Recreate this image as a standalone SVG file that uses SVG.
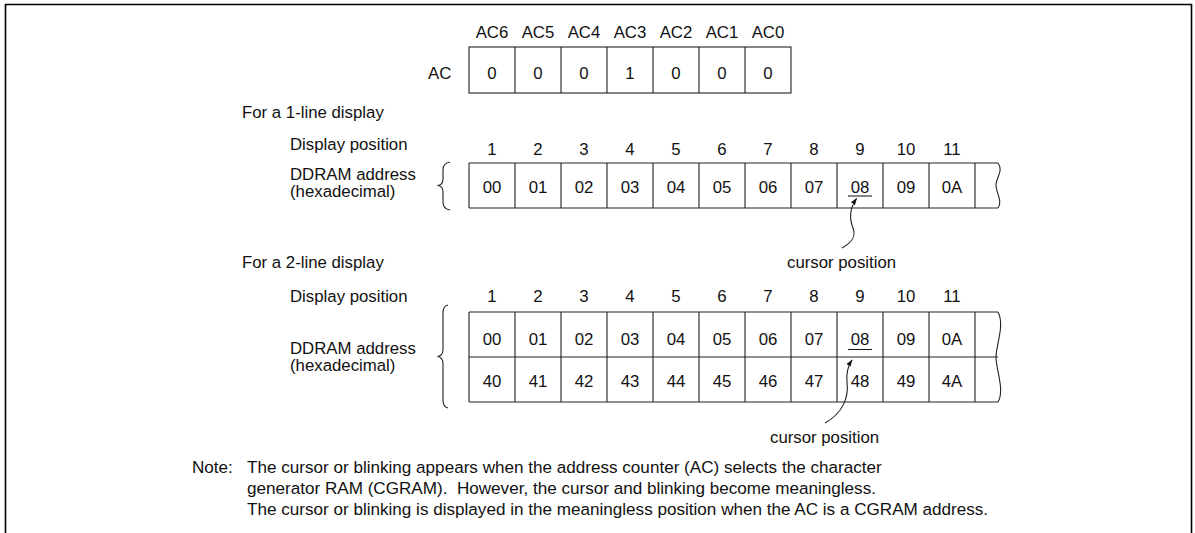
<svg xmlns="http://www.w3.org/2000/svg" width="1195" height="533" viewBox="0 0 1195 533">
<style>
text{font-family:"Liberation Sans",Arial,sans-serif;font-size:16.8px;fill:#111}
.c{text-anchor:middle}
.pre{white-space:pre}
.nt{font-size:17.1px}
.ln{stroke:#222;stroke-width:1.1;fill:none}
.fr{stroke:#000;stroke-width:1.6;fill:none}
.cell{fill:#fff;stroke:#222;stroke-width:1.1}
</style>
<defs>
<marker id="ah" viewBox="0 0 10 10" refX="9" refY="5" markerWidth="7" markerHeight="7" orient="auto" markerUnits="userSpaceOnUse">
<path d="M0,1.5 L10,5 L0,8.5 Z" fill="#111"/>
</marker>
</defs>
<rect width="1195" height="533" fill="#fff"/>
<path class="fr" d="M5.5,533 V4.5 H1191.5 V533"/>

<g id="ac-register">
<g class="c">
<text x="492" y="37.5">AC6</text><text x="538" y="37.5">AC5</text><text x="584" y="37.5">AC4</text><text x="630" y="37.5">AC3</text><text x="676" y="37.5">AC2</text><text x="722" y="37.5">AC1</text><text x="768" y="37.5">AC0</text>
</g>
<text x="428" y="79">AC</text>
<rect class="cell" x="469" y="47" width="322" height="46"/>
<path class="ln" d="M515,47V93M561,47V93M607,47V93M653,47V93M699,47V93M745,47V93"/>
<g class="c">
<text x="492" y="79">0</text><text x="538" y="79">0</text><text x="584" y="79">0</text><text x="630" y="79">1</text><text x="676" y="79">0</text><text x="722" y="79">0</text><text x="768" y="79">0</text>
</g>
</g>

<g id="one-line">
<text x="242" y="118">For a 1-line display</text>
<text x="290" y="150">Display position</text>
<text x="290" y="180">DDRAM address</text>
<text x="290" y="197">(hexadecimal)</text>
<path class="ln" d="M450,162 Q443,163 443,170 L443,179 Q443,185 437.5,185.5 Q443,186 443,192 L443,202 Q443,209 450,210"/>
<g class="c">
<text x="492" y="155">1</text><text x="538" y="155">2</text><text x="584" y="155">3</text><text x="630" y="155">4</text><text x="676" y="155">5</text><text x="722" y="155">6</text><text x="768" y="155">7</text><text x="814" y="155">8</text><text x="860" y="155">9</text><text x="906" y="155">10</text><text x="952" y="155">11</text>
</g>
<path class="ln" d="M469,163 H998 M469,208 H998 M469,163 V208 M515,163V208M561,163V208M607,163V208M653,163V208M699,163V208M745,163V208M791,163V208M837,163V208M883,163V208M929,163V208M975,163V208"/>
<path class="ln" d="M998,163 C1004,170 996,178 996,185 C996,193 1003,201 998,208"/>
<g class="c">
<text x="492" y="192.5">00</text><text x="538" y="192.5">01</text><text x="584" y="192.5">02</text><text x="630" y="192.5">03</text><text x="676" y="192.5">04</text><text x="722" y="192.5">05</text><text x="768" y="192.5">06</text><text x="814" y="192.5">07</text><text x="860" y="192.5">08</text><text x="906" y="192.5">09</text><text x="952" y="192.5">0A</text>
</g>
<path class="ln" d="M848,196 H872"/>
<text x="787" y="268">cursor position</text>
</g>

<g id="two-line">
<text x="242" y="268">For a 2-line display</text>
<text x="290" y="302">Display position</text>
<text x="290" y="354">DDRAM address</text>
<text x="290" y="371">(hexadecimal)</text>
<path class="ln" d="M448,305 Q443,306 443,313 L443,349 Q443,356 437.5,356.5 Q443,357 443,364 L443,400 Q443,407 448,408"/>
<g class="c">
<text x="492" y="302">1</text><text x="538" y="302">2</text><text x="584" y="302">3</text><text x="630" y="302">4</text><text x="676" y="302">5</text><text x="722" y="302">6</text><text x="768" y="302">7</text><text x="814" y="302">8</text><text x="860" y="302">9</text><text x="906" y="302">10</text><text x="952" y="302">11</text>
</g>
<path class="ln" d="M469,312 H998 M469,357 H998 M469,402 H998 M469,312 V402 M515,312V402M561,312V402M607,312V402M653,312V402M699,312V402M745,312V402M791,312V402M837,312V402M883,312V402M929,312V402M975,312V402"/>
<path class="ln" d="M998,312 C1005,325 996,345 996,357 C996,370 1005,390 998,402"/>
<g class="c">
<text x="492" y="345">00</text><text x="538" y="345">01</text><text x="584" y="345">02</text><text x="630" y="345">03</text><text x="676" y="345">04</text><text x="722" y="345">05</text><text x="768" y="345">06</text><text x="814" y="345">07</text><text x="860" y="345">08</text><text x="906" y="345">09</text><text x="952" y="345">0A</text>
<text x="492" y="387">40</text><text x="538" y="387">41</text><text x="584" y="387">42</text><text x="630" y="387">43</text><text x="676" y="387">44</text><text x="722" y="387">45</text><text x="768" y="387">46</text><text x="814" y="387">47</text><text x="860" y="387">48</text><text x="906" y="387">49</text><text x="952" y="387">4A</text>
</g>
<path class="ln" d="M848,349.5 H872"/>
<text x="770" y="443">cursor position</text>
</g>

<g id="connectors">
<path class="ln" marker-end="url(#ah)" d="M842,248 C853,242 856,236 853,228 C849,218 850,208 856.5,198.5"/>
<path class="ln" marker-end="url(#ah)" d="M825,423 C843,413 849,397 847,382 C846,372 848,366 852,360"/>
</g>

<g id="note" class="nt">
<text class="nt" x="192" y="473">Note:</text>
<text class="nt" x="247" y="473">The cursor or blinking appears when the address counter (AC) selects the character</text>
<text class="nt pre" x="247" y="494">generator RAM (CGRAM).  However, the cursor and blinking become meaningless.</text>
<text class="nt" x="247" y="515">The cursor or blinking is displayed in the meaningless position when the AC is a CGRAM address.</text>
</g>
</svg>
